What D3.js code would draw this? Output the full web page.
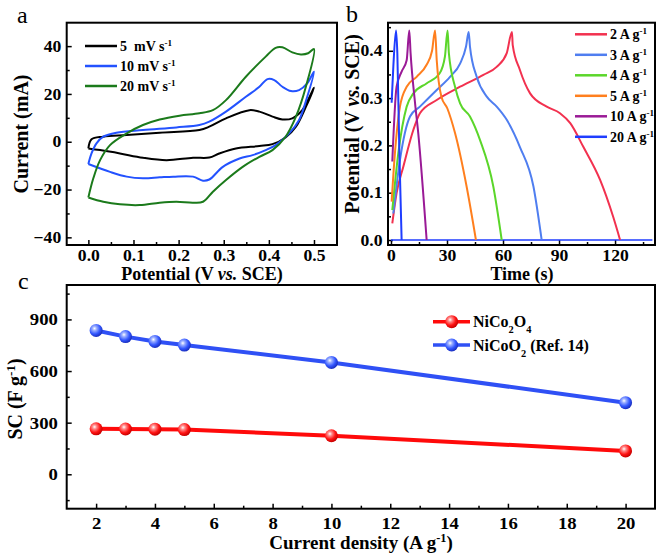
<!DOCTYPE html>
<html><head><meta charset="utf-8">
<script src="https://cdn.jsdelivr.net/npm/d3@7"></script>
<style>
body{margin:0;background:#fff}
svg{display:block}
text{font-family:"Liberation Serif","Times New Roman",serif;font-weight:bold;fill:#000}
</style>
</head><body>
<svg id="chart" width="661" height="553"></svg>
<script>
// ---------- Panel a: CV curves (V vs SCE, mA) ----------
const cvV5  = [0,0.007,0.033,0.085,0.158,0.246,0.268,0.305,0.357,0.379,0.408,0.43,0.452,0.474,0.5,0.482,0.46,0.437,0.408,0.379,0.327,0.29,0.268,0.232,0.173,0.121,0.07,0.026,0];
const cvI5  = [-2.8,1,2.1,2.8,3.8,4.9,6.3,9.8,13.2,12.6,10.5,9.3,9.8,13.2,22.6,14.6,6.3,1.8,-1,-1.8,-2.8,-4.9,-6.6,-6.7,-7.7,-6.7,-4.9,-3.5,-2.8];
const cvV10 = [0,0.007,0.018,0.033,0.062,0.121,0.195,0.246,0.268,0.305,0.349,0.379,0.397,0.412,0.43,0.449,0.467,0.485,0.5,0.485,0.467,0.445,0.415,0.393,0.364,0.335,0.298,0.268,0.254,0.232,0.188,0.158,0.121,0.085,0.048,0];
const cvI10 = [-9.3,-4.9,-0.7,2.1,3.8,4.9,6,7,8.4,12.6,18.8,23,26.2,25.8,23,21.2,21.6,24.4,29.3,18.8,9.1,3.5,-1.4,-3.5,-5.6,-7,-10.5,-15.8,-16.3,-14.6,-14.6,-14.9,-15.3,-14.6,-12.6,-9.3];
const cvV20 = [0,0.011,0.026,0.048,0.085,0.121,0.158,0.202,0.246,0.276,0.305,0.349,0.393,0.415,0.43,0.452,0.471,0.487,0.5,0.482,0.46,0.437,0.408,0.379,0.342,0.305,0.276,0.254,0.232,0.195,0.158,0.114,0.07,0.033,0];
const cvI20 = [-23.3,-15.3,-7.7,-1.4,3.5,7,9.3,10.9,11.9,13.2,17.4,27.2,35.6,39.3,39.5,37.4,36.5,37,38.8,23,10.5,2.1,-3.5,-6.3,-10.5,-16,-20.9,-25.1,-25.5,-25.1,-25.5,-26.5,-26.2,-25.1,-23.3];
const cvLabels = ["5\u00a0 mV s","10 mV s","20 mV s"];
const cvColors = ["#000000","#2352ff","#1b7a1b"];
const cvXTicks = [0,0.1,0.2,0.3,0.4,0.5];
const cvYTicks = [-40,-20,0,20,40];

// ---------- Panel b: GCD curves (s, V) ----------
const gcdT2  = [0.7,3,6.6,12,15.5,24.5,37,49.5,56.6,62,64.8,65.2,69,74.5,83.4,90.5,96,103,112,119,122.7];
const gcdV2  = [0.035,0.099,0.155,0.233,0.268,0.296,0.324,0.349,0.366,0.395,0.44,0.412,0.36,0.31,0.282,0.268,0.247,0.197,0.127,0.049,0];
const gcdT3  = [1.25,4.8,10.2,15.5,24.5,31.6,37,40.2,41.6,42.3,45.9,51.3,56.6,62,69,76.3,80.7];
const gcdV3  = [0.056,0.169,0.261,0.282,0.317,0.345,0.373,0.409,0.44,0.409,0.345,0.303,0.282,0.254,0.197,0.113,0];
const gcdT4  = [0.7,3.9,8.4,12,19,26,28.9,30.3,31,34.3,37,42.3,47.7,54.8,59.3];
const gcdV4  = [0.063,0.183,0.282,0.31,0.331,0.352,0.388,0.443,0.395,0.324,0.289,0.261,0.211,0.113,0];
const gcdT5  = [0.35,2.1,4.8,8.4,13.75,19,22,23.6,24.5,27,30.2,34.3,40.5,45.5];
const gcdV5  = [0.081,0.183,0.282,0.324,0.345,0.37,0.4,0.443,0.38,0.303,0.278,0.226,0.113,0];
const gcdT10 = [0.7,3,5.7,8.4,9.8,10.5,12.9,14.6,19.1];
const gcdV10 = [0.166,0.324,0.356,0.38,0.443,0.395,0.289,0.226,0];
const gcdT20 = [0.35,1.25,2.7,3.4,4.5,5.7];
const gcdV20 = [0.29,0.366,0.443,0.395,0.183,0];
const baseT  = [0,140];
const baseV  = [0,0];
const gcdLabels = ["2 A g","3 A g","4 A g","5 A g","10 A g","20 A g"];
const gcdColors = ["#f2314f","#4f7ef0","#5bd62a","#ff7f1e","#9a1a96","#1f3dff"];
const gcdXTicks = [0,30,60,90,120];
const gcdYTicks = [0,0.1,0.2,0.3,0.4];

// ---------- Panel c: specific capacitance ----------
const density   = [2,3,4,5,10,20];
const scNiCo2O4 = [264,263,262,260,224,136];
const scNiCoO2  = [836,800,772,751,650,416];
const scXTicks  = [2,4,6,8,10,12,14,16,18,20];
const scYTicks  = [0,300,600,900];

const svg = d3.select("#chart");
const defs = svg.append("defs");
function grad(id, c0, c1, c2) {
  const g = defs.append("radialGradient").attr("id", id).attr("cx","38%").attr("cy","35%").attr("r","65%");
  g.append("stop").attr("offset","0%").attr("stop-color","#ffffff");
  g.append("stop").attr("offset","25%").attr("stop-color",c0);
  g.append("stop").attr("offset","65%").attr("stop-color",c1);
  g.append("stop").attr("offset","100%").attr("stop-color",c2);
}
grad("gRed","#ff8a8a","#ff1414","#c80000");
grad("gBlue","#9aaeff","#3357ff","#1a2fc0");

function axes(x, y, o) {
  const [l, r] = x.range(), [b, t] = y.range();
  const g = svg.append("g");
  const style = sel => {
    sel.select(".domain").remove();
    sel.attr("font-family", null).attr("font-size", null);
    sel.selectAll("line").attr("stroke","#000").attr("stroke-width",1.5);
    sel.selectAll("text").style("font-size", o.fs + "px").attr("fill","#000")
       .attr("transform", `scale(${o.sx},1)`);
  };
  g.append("g").attr("transform",`translate(0,${b})`)
    .call(d3.axisBottom(x).tickValues(o.xt).tickFormat(o.fx).tickSize(-5).tickPadding(o.px)).call(style);
  g.append("g").attr("transform",`translate(0,${b})`)
    .call(d3.axisBottom(x).tickValues(o.xm).tickFormat("").tickSize(-3)).call(style);
  g.append("g").attr("transform",`translate(${l},0)`)
    .call(d3.axisLeft(y).tickValues(o.yt).tickFormat(o.fy).tickSize(-5).tickPadding(o.py)).call(style);
  g.append("g").attr("transform",`translate(${l},0)`)
    .call(d3.axisLeft(y).tickValues(o.ym).tickFormat("").tickSize(-3)).call(style);
  g.append("rect").attr("x",l).attr("y",t).attr("width",r-l).attr("height",b-t)
    .attr("fill","none").attr("stroke","#000").attr("stroke-width",2);
}
function title(x, y, parts, fs, rot) {
  const t = svg.append("text").attr("text-anchor","middle").style("font-size",fs+"px")
    .attr("transform",`translate(${x},${y})` + (rot ? " rotate(-90)" : ""));
  parts.forEach(p => {
    const s = t.append("tspan").text(p.t);
    if (p.i) s.style("font-style","italic");
    if (p.sup) s.attr("baseline-shift","super").style("font-size",(fs*0.65)+"px");
    if (p.sub) s.attr("baseline-shift","sub").style("font-size",(fs*0.65)+"px");
  });
  return t;
}
function label(x, y, parts, fs, anchor) {
  const t = title(x, y, parts, fs, false);
  t.attr("text-anchor", anchor || "start");
  return t;
}

// ===== Panel a =====
const xa = d3.scaleLinear().domain([-0.048,0.551]).range([66.7,337]);
const ya = d3.scaleLinear().domain([-43.2,49.8]).range([245,22.7]);
axes(xa, ya, {xt:cvXTicks, xm:[0.05,0.15,0.25,0.35,0.45], yt:cvYTicks, ym:[-30,-10,10,30],
  fx:d3.format(".1f"), fy:d3.format("d"), fs:16, sx:1.1, px:5, py:5});
const cvSets = [[cvV5,cvI5],[cvV10,cvI10],[cvV20,cvI20]];
const lineA = d3.line().x(d=>xa(d[0])).y(d=>ya(d[1])).curve(d3.curveCatmullRom.alpha(0.5));
cvSets.forEach((s,i) => {
  svg.append("path").attr("d", lineA(d3.zip(s[0], s[1]))).attr("fill","none")
    .attr("stroke", cvColors[i]).attr("stroke-width", 2);
});
cvLabels.forEach((lb,i) => {
  const yy = 46 + i*20;
  svg.append("line").attr("x1",85).attr("x2",117).attr("y1",yy).attr("y2",yy)
    .attr("stroke",cvColors[i]).attr("stroke-width",2.5);
  label(120, yy+5, [{t:lb},{t:"-1",sup:true}], 14);
});
title(202, 280, [{t:"Potential (V "},{t:"vs.",i:true},{t:" SCE)"}], 18);
title(28, 134, [{t:"Current (mA)"}], 20, true);
svg.append("text").attr("x",17).attr("y",23).style("font-size","24px").style("font-weight","normal").text("a");

// ===== Panel b =====
const xb = d3.scaleLinear().domain([-1.6,141.4]).range([388,655]);
const yb = d3.scaleLinear().domain([-0.0106,0.4594]).range([245,22.7]);
axes(xb, yb, {xt:gcdXTicks, xm:[15,45,75,105,135], yt:gcdYTicks, ym:[0.05,0.15,0.25,0.35,0.45],
  fx:d3.format("d"), fy:d3.format(".1f"), fs:16, sx:1.1, px:5, py:5});
const lineB = d3.line().x(d=>xb(d[0])).y(d=>yb(d[1])).curve(d3.curveMonotoneX);
svg.append("path").attr("d", lineB(d3.zip(baseT, baseV))).attr("fill","none")
  .attr("stroke", gcdColors[5]).attr("stroke-width", 1.5);
const gcdSets = [[gcdT2,gcdV2],[gcdT3,gcdV3],[gcdT4,gcdV4],[gcdT5,gcdV5],[gcdT10,gcdV10],[gcdT20,gcdV20]];
gcdSets.forEach((s,i) => {
  svg.append("path").attr("d", lineB(d3.zip(s[0], s[1]))).attr("fill","none")
    .attr("stroke", gcdColors[i]).attr("stroke-width", 2);
});
gcdLabels.forEach((lb,i) => {
  const yy = 34.3 + i*20.5;
  svg.append("line").attr("x1",575).attr("x2",607).attr("y1",yy).attr("y2",yy)
    .attr("stroke",gcdColors[i]).attr("stroke-width",2.5);
  label(610, yy+5, [{t:lb},{t:"-1",sup:true}], 14);
});
title(522, 280, [{t:"Time (s)"}], 18);
title(359, 124, [{t:"Potential (V "},{t:"vs.",i:true},{t:" SCE)"}], 20, true);
svg.append("text").attr("x",346).attr("y",22).style("font-size","24px").style("font-weight","normal").text("b");

// ===== Panel c =====
const xc = d3.scaleLinear().domain([1,21]).range([66.7,655]);
const yc = d3.scaleLinear().domain([-200,1100]).range([508.7,285]);
axes(xc, yc, {xt:scXTicks, xm:[3,5,7,9,11,13,15,17,19], yt:scYTicks, ym:[-150,150,450,750,1050],
  fx:d3.format("d"), fy:d3.format("d"), fs:17, sx:1.1, px:8, py:8});
const lineC = d3.line().x(d=>xc(d[0])).y(d=>yc(d[1]));
const scSets = [
  {v:scNiCo2O4, c:"#ff0a0a", g:"url(#gRed)"},
  {v:scNiCoO2,  c:"#2f50f5", g:"url(#gBlue)"}
];
scSets.forEach(s => {
  const pts = d3.zip(density, s.v);
  svg.append("path").attr("d", lineC(pts)).attr("fill","none").attr("stroke", s.c).attr("stroke-width", 4);
  svg.append("g").selectAll("circle").data(pts).join("circle")
    .attr("cx", d=>xc(d[0])).attr("cy", d=>yc(d[1])).attr("r", 6.5).attr("fill", s.g);
});
[[scSets[0], [{t:"NiCo"},{t:"2",sub:true},{t:"O"},{t:"4",sub:true}]],
 [scSets[1], [{t:"NiCoO"},{t:"2",sub:true},{t:" (Ref. 14)"}]]].forEach((e,i) => {
  const yy = 321.7 + i*23.3;
  svg.append("line").attr("x1",433).attr("x2",470).attr("y1",yy).attr("y2",yy).attr("stroke",e[0].c).attr("stroke-width",3.5);
  svg.append("circle").attr("cx",451.7).attr("cy",yy).attr("r",6.5).attr("fill",e[0].g);
  label(473, yy+5.5, e[1], 16);
});
title(361, 549, [{t:"Current density (A g"},{t:"-1",sup:true},{t:")"}], 19);
title(22, 399, [{t:"SC (F g"},{t:"-1",sup:true},{t:")"}], 20, true);
svg.append("text").attr("x",18).attr("y",289).style("font-size","24px").style("font-weight","normal").text("c");
</script>
</body></html>
